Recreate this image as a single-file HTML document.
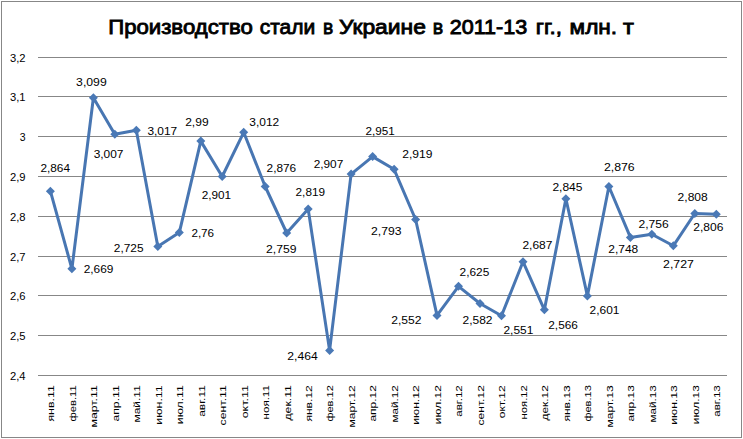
<!DOCTYPE html><html><head><meta charset="utf-8"><style>html,body{margin:0;padding:0;background:#fff;overflow:hidden}svg{display:block}text{font-family:"Liberation Sans",sans-serif}</style></head><body>
<svg width="743" height="439" viewBox="0 0 743 439">
<rect x="0" y="0" width="743" height="439" fill="#fff"/>
<rect x="1.5" y="1.5" width="740" height="436" fill="none" stroke="#878787" stroke-width="1"/>
<text x="108.20" y="33.5" font-size="20.5" fill="#000" stroke="#000" stroke-width="0.85" textLength="144.60" lengthAdjust="spacingAndGlyphs">Производство</text>
<text x="259.70" y="33.5" font-size="20.5" fill="#000" stroke="#000" stroke-width="0.85" textLength="55.50" lengthAdjust="spacingAndGlyphs">стали</text>
<text x="323.00" y="33.5" font-size="20.5" fill="#000" stroke="#000" stroke-width="0.85" textLength="10.20" lengthAdjust="spacingAndGlyphs">в</text>
<text x="338.90" y="33.5" font-size="20.5" fill="#000" stroke="#000" stroke-width="0.85" textLength="87.00" lengthAdjust="spacingAndGlyphs">Украине</text>
<text x="432.70" y="33.5" font-size="20.5" fill="#000" stroke="#000" stroke-width="0.85" textLength="10.40" lengthAdjust="spacingAndGlyphs">в</text>
<text x="449.70" y="33.5" font-size="20.5" fill="#000" stroke="#000" stroke-width="0.85" textLength="77.50" lengthAdjust="spacingAndGlyphs">2011-13</text>
<text x="535.80" y="33.5" font-size="20.5" fill="#000" stroke="#000" stroke-width="0.85" textLength="26.10" lengthAdjust="spacingAndGlyphs">гг.,</text>
<text x="569.60" y="33.5" font-size="20.5" fill="#000" stroke="#000" stroke-width="0.85" textLength="47.50" lengthAdjust="spacingAndGlyphs">млн.</text>
<text x="622.90" y="33.5" font-size="20.5" fill="#000" stroke="#000" stroke-width="0.85" textLength="10.90" lengthAdjust="spacingAndGlyphs">т</text>
<line x1="38" y1="375.5" x2="727" y2="375.5" stroke="#878787" stroke-width="1"/>
<text x="25.6" y="379.9" font-size="10.5" text-anchor="end" fill="#000" textLength="15.6" lengthAdjust="spacingAndGlyphs">2,4</text>
<line x1="38" y1="335.5" x2="727" y2="335.5" stroke="#878787" stroke-width="1"/>
<text x="25.6" y="339.9" font-size="10.5" text-anchor="end" fill="#000" textLength="15.6" lengthAdjust="spacingAndGlyphs">2,5</text>
<line x1="38" y1="295.5" x2="727" y2="295.5" stroke="#878787" stroke-width="1"/>
<text x="25.6" y="299.9" font-size="10.5" text-anchor="end" fill="#000" textLength="15.6" lengthAdjust="spacingAndGlyphs">2,6</text>
<line x1="38" y1="256.5" x2="727" y2="256.5" stroke="#878787" stroke-width="1"/>
<text x="25.6" y="260.9" font-size="10.5" text-anchor="end" fill="#000" textLength="15.6" lengthAdjust="spacingAndGlyphs">2,7</text>
<line x1="38" y1="216.5" x2="727" y2="216.5" stroke="#878787" stroke-width="1"/>
<text x="25.6" y="220.9" font-size="10.5" text-anchor="end" fill="#000" textLength="15.6" lengthAdjust="spacingAndGlyphs">2,8</text>
<line x1="38" y1="176.5" x2="727" y2="176.5" stroke="#878787" stroke-width="1"/>
<text x="25.6" y="180.9" font-size="10.5" text-anchor="end" fill="#000" textLength="15.6" lengthAdjust="spacingAndGlyphs">2,9</text>
<line x1="38" y1="136.5" x2="727" y2="136.5" stroke="#878787" stroke-width="1"/>
<text x="25.6" y="140.9" font-size="10.5" text-anchor="end" fill="#000">3</text>
<line x1="38" y1="96.5" x2="727" y2="96.5" stroke="#878787" stroke-width="1"/>
<text x="25.6" y="100.9" font-size="10.5" text-anchor="end" fill="#000" textLength="15.6" lengthAdjust="spacingAndGlyphs">3,1</text>
<line x1="38" y1="57.5" x2="727" y2="57.5" stroke="#878787" stroke-width="1"/>
<text x="25.6" y="61.9" font-size="10.5" text-anchor="end" fill="#000" textLength="15.6" lengthAdjust="spacingAndGlyphs">3,2</text>
<text transform="translate(54.2,385.2) rotate(-90)" font-size="9.8" text-anchor="end" fill="#000" textLength="36.4" lengthAdjust="spacingAndGlyphs">янв.11</text>
<text transform="translate(75.7,385.2) rotate(-90)" font-size="9.8" text-anchor="end" fill="#000" textLength="36.4" lengthAdjust="spacingAndGlyphs">фев.11</text>
<text transform="translate(97.2,385.2) rotate(-90)" font-size="9.8" text-anchor="end" fill="#000" textLength="42.4" lengthAdjust="spacingAndGlyphs">март.11</text>
<text transform="translate(118.6,385.2) rotate(-90)" font-size="9.8" text-anchor="end" fill="#000" textLength="36.4" lengthAdjust="spacingAndGlyphs">апр.11</text>
<text transform="translate(140.1,385.2) rotate(-90)" font-size="9.8" text-anchor="end" fill="#000" textLength="37.4" lengthAdjust="spacingAndGlyphs">май.11</text>
<text transform="translate(161.6,385.2) rotate(-90)" font-size="9.8" text-anchor="end" fill="#000" textLength="39.6" lengthAdjust="spacingAndGlyphs">июн.11</text>
<text transform="translate(183.1,385.2) rotate(-90)" font-size="9.8" text-anchor="end" fill="#000" textLength="39.0" lengthAdjust="spacingAndGlyphs">июл.11</text>
<text transform="translate(204.6,385.2) rotate(-90)" font-size="9.8" text-anchor="end" fill="#000" textLength="31.6" lengthAdjust="spacingAndGlyphs">авг.11</text>
<text transform="translate(226.0,385.2) rotate(-90)" font-size="9.8" text-anchor="end" fill="#000" textLength="40.2" lengthAdjust="spacingAndGlyphs">сент.11</text>
<text transform="translate(247.5,385.2) rotate(-90)" font-size="9.8" text-anchor="end" fill="#000" textLength="33.1" lengthAdjust="spacingAndGlyphs">окт.11</text>
<text transform="translate(269.0,385.2) rotate(-90)" font-size="9.8" text-anchor="end" fill="#000" textLength="34.2" lengthAdjust="spacingAndGlyphs">ноя.11</text>
<text transform="translate(290.5,385.2) rotate(-90)" font-size="9.8" text-anchor="end" fill="#000" textLength="35.3" lengthAdjust="spacingAndGlyphs">дек.11</text>
<text transform="translate(312.0,385.2) rotate(-90)" font-size="9.8" text-anchor="end" fill="#000" textLength="36.4" lengthAdjust="spacingAndGlyphs">янв.12</text>
<text transform="translate(333.4,385.2) rotate(-90)" font-size="9.8" text-anchor="end" fill="#000" textLength="36.4" lengthAdjust="spacingAndGlyphs">фев.12</text>
<text transform="translate(354.9,385.2) rotate(-90)" font-size="9.8" text-anchor="end" fill="#000" textLength="42.4" lengthAdjust="spacingAndGlyphs">март.12</text>
<text transform="translate(376.4,385.2) rotate(-90)" font-size="9.8" text-anchor="end" fill="#000" textLength="36.4" lengthAdjust="spacingAndGlyphs">апр.12</text>
<text transform="translate(397.9,385.2) rotate(-90)" font-size="9.8" text-anchor="end" fill="#000" textLength="37.4" lengthAdjust="spacingAndGlyphs">май.12</text>
<text transform="translate(419.4,385.2) rotate(-90)" font-size="9.8" text-anchor="end" fill="#000" textLength="39.6" lengthAdjust="spacingAndGlyphs">июн.12</text>
<text transform="translate(440.8,385.2) rotate(-90)" font-size="9.8" text-anchor="end" fill="#000" textLength="39.0" lengthAdjust="spacingAndGlyphs">июл.12</text>
<text transform="translate(462.3,385.2) rotate(-90)" font-size="9.8" text-anchor="end" fill="#000" textLength="31.6" lengthAdjust="spacingAndGlyphs">авг.12</text>
<text transform="translate(483.8,385.2) rotate(-90)" font-size="9.8" text-anchor="end" fill="#000" textLength="40.2" lengthAdjust="spacingAndGlyphs">сент.12</text>
<text transform="translate(505.3,385.2) rotate(-90)" font-size="9.8" text-anchor="end" fill="#000" textLength="33.1" lengthAdjust="spacingAndGlyphs">окт.12</text>
<text transform="translate(526.8,385.2) rotate(-90)" font-size="9.8" text-anchor="end" fill="#000" textLength="34.2" lengthAdjust="spacingAndGlyphs">ноя.12</text>
<text transform="translate(548.2,385.2) rotate(-90)" font-size="9.8" text-anchor="end" fill="#000" textLength="35.3" lengthAdjust="spacingAndGlyphs">дек.12</text>
<text transform="translate(569.7,385.2) rotate(-90)" font-size="9.8" text-anchor="end" fill="#000" textLength="36.4" lengthAdjust="spacingAndGlyphs">янв.13</text>
<text transform="translate(591.2,385.2) rotate(-90)" font-size="9.8" text-anchor="end" fill="#000" textLength="36.4" lengthAdjust="spacingAndGlyphs">фев.13</text>
<text transform="translate(612.7,385.2) rotate(-90)" font-size="9.8" text-anchor="end" fill="#000" textLength="42.4" lengthAdjust="spacingAndGlyphs">март.13</text>
<text transform="translate(634.2,385.2) rotate(-90)" font-size="9.8" text-anchor="end" fill="#000" textLength="36.4" lengthAdjust="spacingAndGlyphs">апр.13</text>
<text transform="translate(655.6,385.2) rotate(-90)" font-size="9.8" text-anchor="end" fill="#000" textLength="37.4" lengthAdjust="spacingAndGlyphs">май.13</text>
<text transform="translate(677.1,385.2) rotate(-90)" font-size="9.8" text-anchor="end" fill="#000" textLength="39.6" lengthAdjust="spacingAndGlyphs">июн.13</text>
<text transform="translate(698.6,385.2) rotate(-90)" font-size="9.8" text-anchor="end" fill="#000" textLength="39.0" lengthAdjust="spacingAndGlyphs">июл.13</text>
<text transform="translate(720.1,385.2) rotate(-90)" font-size="9.8" text-anchor="end" fill="#000" textLength="31.6" lengthAdjust="spacingAndGlyphs">авг.13</text>
<polyline points="50.4,191.2 71.9,268.8 93.4,97.7 114.8,134.3 136.3,130.3 157.8,246.5 179.3,232.6 200.8,141.1 222.2,176.5 243.7,132.3 265.2,186.5 286.7,233.0 308.2,209.1 329.6,350.4 351.1,174.1 372.6,156.6 394.1,169.3 415.6,219.5 437.0,315.4 458.5,286.3 480.0,303.5 501.5,315.8 523.0,261.7 544.4,309.8 565.9,198.8 587.4,295.9 608.9,186.5 630.4,237.4 651.8,234.2 673.3,245.8 694.8,213.5 716.3,214.3" fill="none" stroke="#4876B2" stroke-width="3" stroke-linejoin="round"/>
<polygon points="50.4,186.7 54.9,191.2 50.4,195.7 45.9,191.2" fill="#4A79B6"/>
<polygon points="71.9,264.3 76.4,268.8 71.9,273.3 67.4,268.8" fill="#4A79B6"/>
<polygon points="93.4,93.2 97.9,97.7 93.4,102.2 88.9,97.7" fill="#4A79B6"/>
<polygon points="114.8,129.8 119.3,134.3 114.8,138.8 110.3,134.3" fill="#4A79B6"/>
<polygon points="136.3,125.8 140.8,130.3 136.3,134.8 131.8,130.3" fill="#4A79B6"/>
<polygon points="157.8,242.0 162.3,246.5 157.8,251.0 153.3,246.5" fill="#4A79B6"/>
<polygon points="179.3,228.1 183.8,232.6 179.3,237.1 174.8,232.6" fill="#4A79B6"/>
<polygon points="200.8,136.6 205.3,141.1 200.8,145.6 196.3,141.1" fill="#4A79B6"/>
<polygon points="222.2,172.0 226.7,176.5 222.2,181.0 217.7,176.5" fill="#4A79B6"/>
<polygon points="243.7,127.8 248.2,132.3 243.7,136.8 239.2,132.3" fill="#4A79B6"/>
<polygon points="265.2,182.0 269.7,186.5 265.2,191.0 260.7,186.5" fill="#4A79B6"/>
<polygon points="286.7,228.5 291.2,233.0 286.7,237.5 282.2,233.0" fill="#4A79B6"/>
<polygon points="308.2,204.6 312.7,209.1 308.2,213.6 303.7,209.1" fill="#4A79B6"/>
<polygon points="329.6,345.9 334.1,350.4 329.6,354.9 325.1,350.4" fill="#4A79B6"/>
<polygon points="351.1,169.6 355.6,174.1 351.1,178.6 346.6,174.1" fill="#4A79B6"/>
<polygon points="372.6,152.1 377.1,156.6 372.6,161.1 368.1,156.6" fill="#4A79B6"/>
<polygon points="394.1,164.8 398.6,169.3 394.1,173.8 389.6,169.3" fill="#4A79B6"/>
<polygon points="415.6,215.0 420.1,219.5 415.6,224.0 411.1,219.5" fill="#4A79B6"/>
<polygon points="437.0,310.9 441.5,315.4 437.0,319.9 432.5,315.4" fill="#4A79B6"/>
<polygon points="458.5,281.8 463.0,286.3 458.5,290.8 454.0,286.3" fill="#4A79B6"/>
<polygon points="480.0,299.0 484.5,303.5 480.0,308.0 475.5,303.5" fill="#4A79B6"/>
<polygon points="501.5,311.3 506.0,315.8 501.5,320.3 497.0,315.8" fill="#4A79B6"/>
<polygon points="523.0,257.2 527.5,261.7 523.0,266.2 518.5,261.7" fill="#4A79B6"/>
<polygon points="544.4,305.3 548.9,309.8 544.4,314.3 539.9,309.8" fill="#4A79B6"/>
<polygon points="565.9,194.3 570.4,198.8 565.9,203.3 561.4,198.8" fill="#4A79B6"/>
<polygon points="587.4,291.4 591.9,295.9 587.4,300.4 582.9,295.9" fill="#4A79B6"/>
<polygon points="608.9,182.0 613.4,186.5 608.9,191.0 604.4,186.5" fill="#4A79B6"/>
<polygon points="630.4,232.9 634.9,237.4 630.4,241.9 625.9,237.4" fill="#4A79B6"/>
<polygon points="651.8,229.7 656.3,234.2 651.8,238.7 647.3,234.2" fill="#4A79B6"/>
<polygon points="673.3,241.3 677.8,245.8 673.3,250.3 668.8,245.8" fill="#4A79B6"/>
<polygon points="694.8,209.0 699.3,213.5 694.8,218.0 690.3,213.5" fill="#4A79B6"/>
<polygon points="716.3,209.8 720.8,214.3 716.3,218.8 711.8,214.3" fill="#4A79B6"/>
<text x="40.4" y="171.5" font-size="10.8" fill="#000" textLength="29.6" lengthAdjust="spacingAndGlyphs">2,864</text>
<text x="83.7" y="272.8" font-size="10.8" fill="#000" textLength="29.7" lengthAdjust="spacingAndGlyphs">2,669</text>
<text x="76.1" y="85.8" font-size="10.8" fill="#000" textLength="30.6" lengthAdjust="spacingAndGlyphs">3,099</text>
<text x="93.7" y="158.4" font-size="10.8" fill="#000" textLength="29.8" lengthAdjust="spacingAndGlyphs">3,007</text>
<text x="147.4" y="134.6" font-size="10.8" fill="#000" textLength="29.8" lengthAdjust="spacingAndGlyphs">3,017</text>
<text x="113.8" y="251.9" font-size="10.8" fill="#000" textLength="29.7" lengthAdjust="spacingAndGlyphs">2,725</text>
<text x="191.4" y="236.8" font-size="10.8" fill="#000" textLength="22.7" lengthAdjust="spacingAndGlyphs">2,76</text>
<text x="185.2" y="125.8" font-size="10.8" fill="#000" textLength="23.4" lengthAdjust="spacingAndGlyphs">2,99</text>
<text x="201.7" y="199.4" font-size="10.8" fill="#000" textLength="29.4" lengthAdjust="spacingAndGlyphs">2,901</text>
<text x="249.3" y="125.5" font-size="10.8" fill="#000" textLength="29.9" lengthAdjust="spacingAndGlyphs">3,012</text>
<text x="266.6" y="171.9" font-size="10.8" fill="#000" textLength="29.6" lengthAdjust="spacingAndGlyphs">2,876</text>
<text x="266.1" y="252.5" font-size="10.8" fill="#000" textLength="30.4" lengthAdjust="spacingAndGlyphs">2,759</text>
<text x="295.6" y="195.9" font-size="10.8" fill="#000" textLength="29.4" lengthAdjust="spacingAndGlyphs">2,819</text>
<text x="287.3" y="360.2" font-size="10.8" fill="#000" textLength="30.4" lengthAdjust="spacingAndGlyphs">2,464</text>
<text x="313.7" y="168.0" font-size="10.8" fill="#000" textLength="29.6" lengthAdjust="spacingAndGlyphs">2,907</text>
<text x="365.6" y="135.3" font-size="10.8" fill="#000" textLength="29.3" lengthAdjust="spacingAndGlyphs">2,951</text>
<text x="402.2" y="157.5" font-size="10.8" fill="#000" textLength="30.2" lengthAdjust="spacingAndGlyphs">2,919</text>
<text x="371.0" y="235.4" font-size="10.8" fill="#000" textLength="30.4" lengthAdjust="spacingAndGlyphs">2,793</text>
<text x="391.3" y="323.9" font-size="10.8" fill="#000" textLength="30.2" lengthAdjust="spacingAndGlyphs">2,552</text>
<text x="459.6" y="275.9" font-size="10.8" fill="#000" textLength="29.7" lengthAdjust="spacingAndGlyphs">2,625</text>
<text x="462.5" y="323.9" font-size="10.8" fill="#000" textLength="30.0" lengthAdjust="spacingAndGlyphs">2,582</text>
<text x="503.5" y="333.7" font-size="10.8" fill="#000" textLength="29.8" lengthAdjust="spacingAndGlyphs">2,551</text>
<text x="522.4" y="249.0" font-size="10.8" fill="#000" textLength="30.0" lengthAdjust="spacingAndGlyphs">2,687</text>
<text x="548.3" y="328.6" font-size="10.8" fill="#000" textLength="29.6" lengthAdjust="spacingAndGlyphs">2,566</text>
<text x="552.4" y="190.5" font-size="10.8" fill="#000" textLength="30.1" lengthAdjust="spacingAndGlyphs">2,845</text>
<text x="589.6" y="313.6" font-size="10.8" fill="#000" textLength="29.8" lengthAdjust="spacingAndGlyphs">2,601</text>
<text x="603.9" y="170.7" font-size="10.8" fill="#000" textLength="30.8" lengthAdjust="spacingAndGlyphs">2,876</text>
<text x="608.3" y="252.7" font-size="10.8" fill="#000" textLength="29.9" lengthAdjust="spacingAndGlyphs">2,748</text>
<text x="638.5" y="227.5" font-size="10.8" fill="#000" textLength="30.2" lengthAdjust="spacingAndGlyphs">2,756</text>
<text x="663.1" y="268.3" font-size="10.8" fill="#000" textLength="30.8" lengthAdjust="spacingAndGlyphs">2,727</text>
<text x="677.6" y="200.9" font-size="10.8" fill="#000" textLength="30.2" lengthAdjust="spacingAndGlyphs">2,808</text>
<text x="693.3" y="231.4" font-size="10.8" fill="#000" textLength="30.1" lengthAdjust="spacingAndGlyphs">2,806</text>
</svg></body></html>
